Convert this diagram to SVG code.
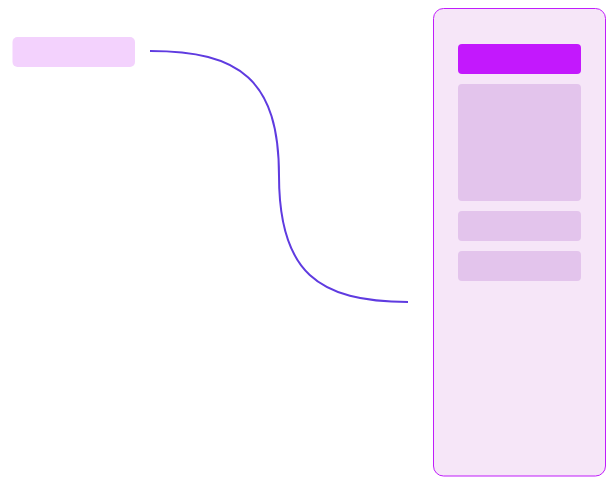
<svg xmlns="http://www.w3.org/2000/svg" width="616" height="487" viewBox="0 0 616 487">
<style>
.sub{fill:#e3c4ec;}
.conn{fill:none;stroke:#5f3be0;stroke-width:2;}
</style>
<rect width="616" height="487" fill="#ffffff"/>
<g id="source-node">
<rect x="12.5" y="37" width="122.5" height="30" rx="5" fill="#f3d2fd"/>
</g>
<g id="panel-node">
<rect x="433.5" y="8.5" width="172" height="467.5" rx="10" fill="#f6e6f8" stroke="#c01cfb" stroke-width="1"/>
<rect x="458" y="44" width="123" height="30" rx="4" fill="#c318fd"/>
<rect class="sub" x="458" y="84" width="123" height="117" rx="4"/>
<rect class="sub" x="458" y="211" width="123" height="30" rx="4"/>
<rect class="sub" x="458" y="251" width="123" height="30" rx="4"/>
</g>
<g id="connectors">
<path class="conn" d="M150,51 C240,51 279,80 279,176 C279,272 318,302 408,302"/>
</g>
</svg>
